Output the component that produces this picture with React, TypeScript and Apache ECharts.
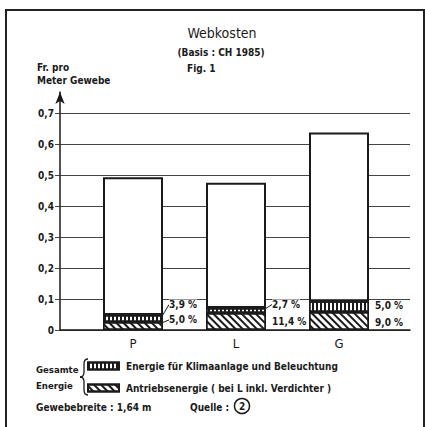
import React, { useEffect, useRef } from 'react';
import * as echarts from 'echarts';

const categories = ['P', 'L', 'G'];
const totalCost = [0.493, 0.475, 0.637];
const driveEnergy = [0.026, 0.055, 0.058];
const climateEnergy = [0.022, 0.016, 0.035];
const drivePct = ['5,0 %', '11,4 %', '9,0 %'];
const climatePct = ['3,9 %', '2,7 %', '5,0 %'];
const yMin = 0;
const yMax = 0.7;
const yStep = 0.1;

const nameClimate = 'Energie für Klimaanlage und Beleuchtung';
const nameDrive = 'Antriebsenergie ( bei L inkl. Verdichter )';

const F = '"DejaVu Sans Condensed", "DejaVu Sans", sans-serif';
const INK = '#1a1a1a';

const hatchDecal = {
  symbol: 'rect',
  symbolSize: 1,
  dashArrayX: [1, 0],
  dashArrayY: [1.4, 2.6],
  rotation: Math.PI / 4,
  color: INK,
  backgroundColor: '#fff',
};
const stripeDecal = {
  symbol: 'rect',
  symbolSize: 1,
  dashArrayX: [1.5, 1.5],
  dashArrayY: [1, 0],
  rotation: 0,
  color: INK,
  backgroundColor: '#fff',
};

export default function App() {
  const ref = useRef<HTMLDivElement>(null);
  useEffect(() => {
    document.body.style.margin = '0';
    const chart = echarts.init(ref.current!, null, { renderer: 'svg' });
    const rest = totalCost.map((t, i) => +(t - driveEnergy[i] - climateEnergy[i]).toFixed(4));
    const climDy = [-14, -6, -1];
    const climLine = [true, true, false];
    const driveDy = [-6, 0, 1];
    const driveLine = [true, false, false];
    const barBase = {
      type: 'bar',
      xAxisIndex: 1,
      yAxisIndex: 1,
      stack: 'cost',
      barWidth: 60,
    };
    const txt = (text: string, x: number, y: number, extra: any = {}) => ({
      type: 'text',
      x,
      y,
      style: { text, font: `bold 10px ${F}`, fill: INK, verticalAlign: 'middle', ...extra },
    });
    const braceStyle = { fill: 'none', stroke: INK, lineWidth: 1.3 };
    const bz = (x1: number, y1: number, cpx1: number, cpy1: number, cpx2: number, cpy2: number, x2: number, y2: number) => ({
      type: 'bezierCurve',
      shape: { x1, y1, cpx1, cpy1, cpx2, cpy2, x2, y2 },
      style: braceStyle,
    });
    const ln = (x1: number, y1: number, x2: number, y2: number) => ({
      type: 'line',
      shape: { x1, y1, x2, y2 },
      style: braceStyle,
    });
    chart.setOption({
      animation: false,
      backgroundColor: '#fff',
      textStyle: { fontFamily: F, color: INK },
      grid: [
        { left: 60, right: 15, top: 113, bottom: 97 },
        { left: 81.5, width: 309, top: 113, bottom: 97 },
        { left: 60, width: 1, top: 92, bottom: 97 },
      ],
      xAxis: [
        {
          gridIndex: 0,
          type: 'category',
          data: categories,
          axisLine: { show: true, lineStyle: { color: INK, width: 1.5 } },
          axisTick: { show: false },
          axisLabel: { show: false },
        },
        {
          gridIndex: 1,
          type: 'category',
          data: categories,
          axisLine: { show: false },
          axisTick: { show: false },
          axisLabel: { fontFamily: F, fontSize: 13, color: INK, margin: 7 },
        },
        { gridIndex: 2, type: 'value', show: false },
      ],
      yAxis: [
        {
          gridIndex: 0,
          type: 'value',
          min: yMin,
          max: yMax,
          interval: yStep,
          axisLine: { show: false },
          axisTick: { show: true, length: 5, lineStyle: { color: '#444' } },
          splitLine: { show: true, lineStyle: { color: '#444', width: 1 } },
          axisLabel: {
            fontFamily: F,
            fontSize: 10,
            fontWeight: 'bold',
            color: INK,
            margin: 6,
            formatter: (v: number) => (v === 0 ? '0' : v.toFixed(1).replace('.', ',')),
          },
        },
        { gridIndex: 1, type: 'value', min: yMin, max: yMax, show: false },
        {
          gridIndex: 2,
          type: 'value',
          min: 0,
          max: 1,
          axisLine: {
            show: true,
            symbol: ['none', 'arrow'],
            symbolSize: [7, 12],
            lineStyle: { color: INK, width: 1.5 },
          },
          axisTick: { show: false },
          axisLabel: { show: false },
          splitLine: { show: false },
        },
      ],
      legend: {
        orient: 'vertical',
        left: 87,
        top: 361,
        padding: 0,
        itemWidth: 31,
        itemHeight: 7,
        itemGap: 12,
        icon: 'rect',
        data: [nameClimate, nameDrive],
        textStyle: { fontFamily: F, fontSize: 10, fontWeight: 'bold', color: INK, padding: [2, 0, 0, 2] },
        selectedMode: false,
      },
      series: [
        {
          ...barBase,
          name: nameDrive,
          data: driveEnergy.map((v, i) => ({ value: v, labelLine: { show: driveLine[i] } })),
          itemStyle: { color: '#fff', borderColor: INK, borderWidth: 1.5, decal: hatchDecal },
          label: {
            show: true,
            position: 'right',
            distance: 6,
            fontFamily: F,
            fontSize: 10,
            fontWeight: 'bold',
            color: INK,
            backgroundColor: '#fff',
            formatter: (p: any) => drivePct[p.dataIndex],
          },
          labelLine: { show: true, lineStyle: { color: INK, width: 1 } },
          labelLayout: (p: any) => ({ dy: driveDy[p.dataIndex] }),
        },
        {
          ...barBase,
          name: nameClimate,
          data: climateEnergy.map((v, i) => ({ value: v, labelLine: { show: climLine[i] } })),
          itemStyle: { color: '#fff', borderColor: INK, borderWidth: 1.5, decal: stripeDecal },
          label: {
            show: true,
            position: 'right',
            distance: 6,
            fontFamily: F,
            fontSize: 10,
            fontWeight: 'bold',
            color: INK,
            backgroundColor: '#fff',
            formatter: (p: any) => climatePct[p.dataIndex],
          },
          labelLine: { show: true, lineStyle: { color: INK, width: 1 } },
          labelLayout: (p: any) => ({ dy: climDy[p.dataIndex] }),
        },
        {
          ...barBase,
          name: 'Rest',
          data: rest,
          itemStyle: { color: '#fff', borderColor: INK, borderWidth: 2 },
        },
      ],
      graphic: [
        {
          type: 'rect',
          shape: { x: 6, y: 10, width: 418, height: 440 },
          style: { fill: 'none', stroke: '#222', lineWidth: 2 },
          silent: true,
        },
        txt('Webkosten', 222, 33, { font: `14px ${F}`, align: 'center' }),
        txt('(Basis : CH 1985)', 221, 52, { align: 'center' }),
        txt('Fig. 1', 187, 68),
        txt('Fr. pro', 37, 67),
        txt('Meter Gewebe', 37, 80),
        txt('Gesamte', 36, 369, { font: `bold 9.5px ${F}` }),
        txt('Energie', 36, 385, { font: `bold 9.5px ${F}` }),
        bz(88, 359, 85.5, 359, 84, 360.5, 84, 364),
        ln(84, 364, 84, 372),
        bz(84, 372, 84, 375.5, 83, 377, 80, 377),
        bz(80, 377, 83, 377, 84, 378.5, 84, 382),
        ln(84, 382, 84, 390),
        bz(84, 390, 84, 393.5, 85.5, 395, 88, 395),
        txt('Gewebebreite : 1,64 m', 36, 407),
        txt('Quelle :', 190, 407),
        {
          type: 'circle',
          shape: { cx: 242, cy: 406, r: 7.5 },
          style: { fill: 'none', stroke: INK, lineWidth: 1.5 },
        },
        txt('2', 242, 406, { align: 'center' }),
      ],
    });
    return () => chart.dispose();
  }, []);
  return <div ref={ref} style={{ width: 425, height: 427 }} />;
}
